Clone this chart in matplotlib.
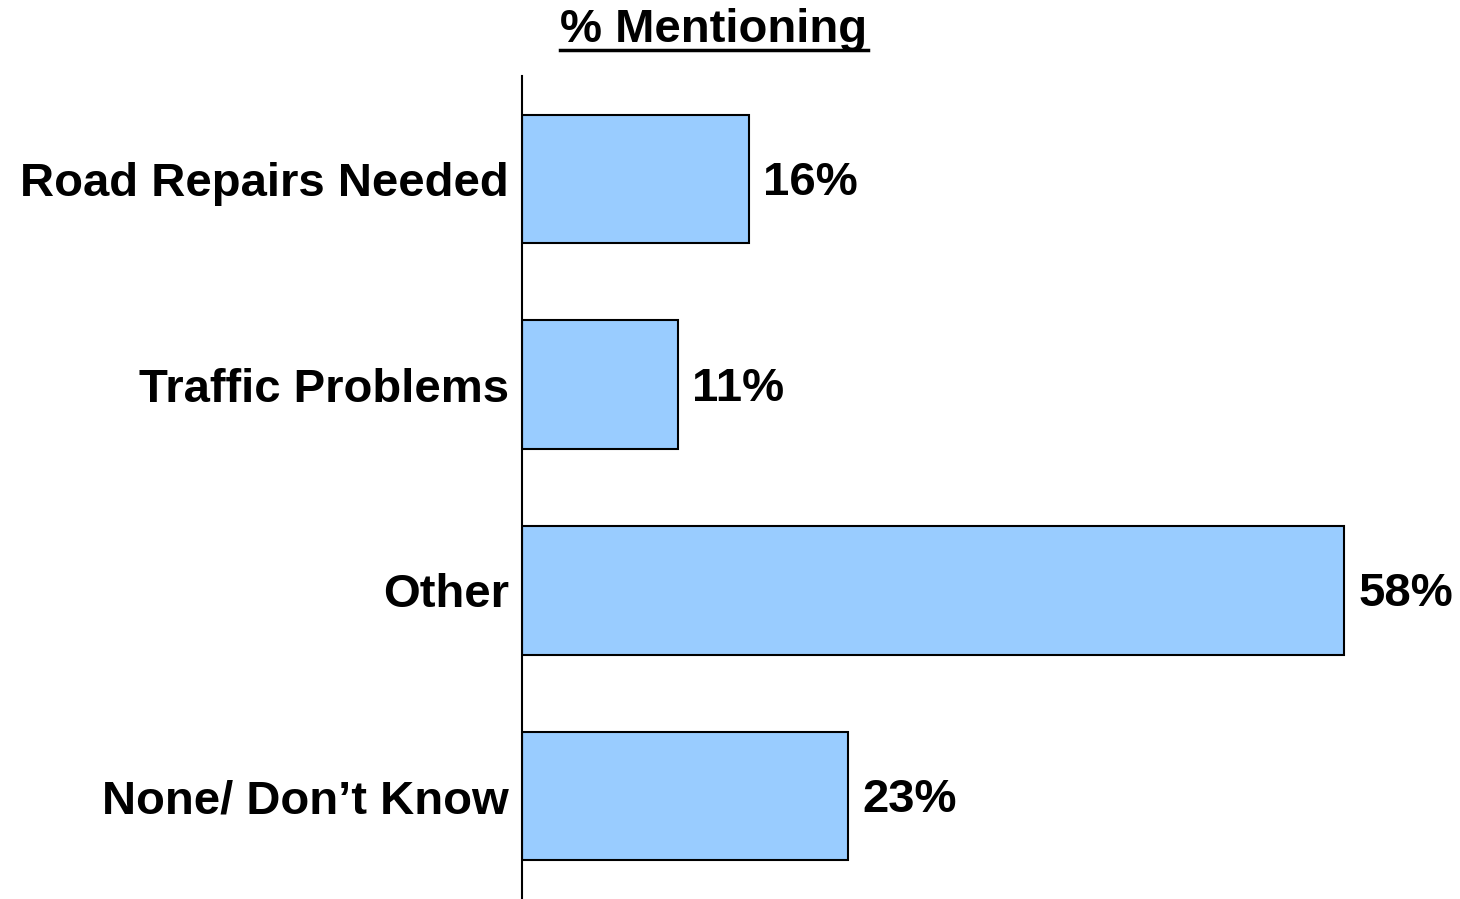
import matplotlib
matplotlib.use("Agg")
import matplotlib.pyplot as plt
import matplotlib.transforms as mtransforms

categories = ["Road Repairs Needed", "Traffic Problems", "Other", "None/ Don\u2019t Know"]
values = [16, 11, 58, 23]
value_labels = ["16%", "11%", "58%", "23%"]
title = "% Mentioning"

plt.rcParams['font.family'] = ['Liberation Sans', 'DejaVu Sans']

fig = plt.figure(figsize=(14.6, 8.99), dpi=100)
W, H = 1460, 899
ax = fig.add_axes([522 / W, 0.0, 60 * 14.17 / W, 1 - 76 / H])

ypos = list(range(len(categories)))
ax.barh(ypos, values, height=0.625, color="#99CCFF", edgecolor="black", linewidth=1.5)
ax.set_ylim(len(categories) - 0.5, -0.5)
ax.set_xlim(0, 60)

for y, v, lab in zip(ypos, values, value_labels):
    ax.text(v + 1.0, y + 0.02, lab, va="center", ha="left", fontsize=34, fontweight="bold")

ax.set_yticks(ypos)
ax.set_yticklabels(categories, fontsize=34, fontweight="bold")
shift = mtransforms.ScaledTranslation(-4 / 100, 5 / 100, fig.dpi_scale_trans)
for lbl in ax.get_yticklabels():
    lbl.set_transform(lbl.get_transform() + shift)
ax.tick_params(axis="y", length=0, pad=9.5)
ax.set_xticks([])
for s in ["top", "right", "bottom"]:
    ax.spines[s].set_visible(False)
ax.spines["left"].set_linewidth(1.5)

t = fig.text(714 / W, 1 - 30 / H, title, ha="center", va="center", fontsize=34, fontweight="bold")
fig.canvas.draw()
bb = t.get_window_extent()
fig.add_artist(plt.Line2D([bb.x0 / W, bb.x1 / W], [(H - 50) / H, (H - 50) / H],
                          color="black", linewidth=2.5, transform=fig.transFigure))

fig.savefig("out.png", dpi=100)
